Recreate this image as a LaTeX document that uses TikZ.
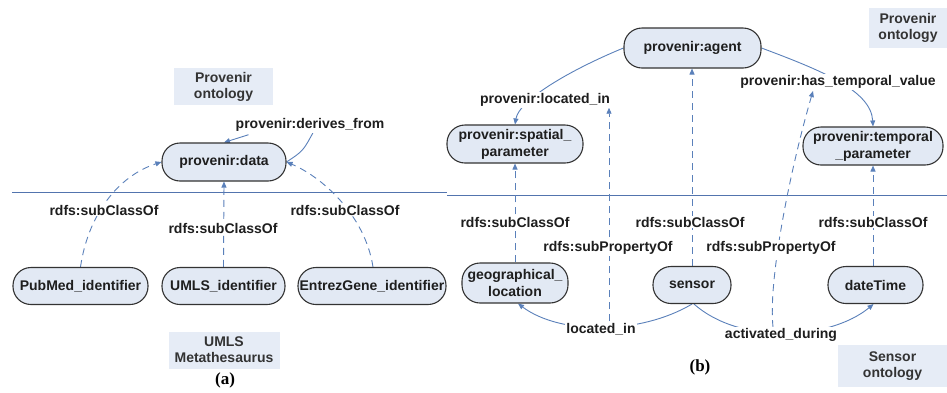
\documentclass[tikz,border=0pt]{standalone}
\usepackage{fontspec}
\setmainfont{Liberation Sans}
\newfontfamily\serifbold{Liberation Serif}
\usetikzlibrary{arrows.meta,backgrounds,calc}
\definecolor{nodefill}{HTML}{E2E9F4}
\definecolor{boxfill}{HTML}{E6ECF6}
\definecolor{edgeblue}{HTML}{5A80BA}
\definecolor{sepblue}{HTML}{5274AE}
\definecolor{txt}{HTML}{1E1E1E}
\begin{document}
\begin{tikzpicture}[x=1pt,y=-1pt,
  lbl/.style={font=\bfseries\fontsize{14}{17}\selectfont, text=txt, align=center},
  pill/.style={lbl, draw=black!80, line width=1.1pt, fill=nodefill, rounded corners=18pt, minimum height=37pt, inner sep=1pt},
  tag/.style={lbl, fill=white, inner sep=1pt},
  onto/.style={lbl, fill=boxfill, inner sep=0pt, font=\bfseries\fontsize{14}{16}\selectfont, text=black!80},
  rel/.style={draw=edgeblue, line width=0.9pt, -{Triangle[length=6pt,width=5pt]}},
  plain/.style={draw=edgeblue, line width=0.9pt},
  sub/.style={rel, dash pattern=on 7pt off 5pt},
  captext/.style={font=\serifbold\bfseries\fontsize{17}{19}\selectfont, text=black}
]
\useasboundingbox (0,0) rectangle (947,392);

% ---------- panel (a) ----------
\node[onto, minimum width=99pt, minimum height=37pt] (provA) at (223.5,86.5) {Provenir\\ontology};
\node[pill, minimum width=124pt, minimum height=38pt] (data) at (224,162) {provenir:data};
\node[pill, minimum width=135pt] (pub) at (80.5,286) {PubMed\_identifier};
\node[pill, minimum width=123pt] (umls) at (223.5,286) {UMLS\_identifier};
\node[pill, minimum width=148pt] (entrez) at (372,286) {EntrezGene\_identifier};
\node[onto, minimum width=111pt, minimum height=37pt] (umlsbox) at (224,350) {UMLS\\Metathesaurus};
\node[captext] (capa) at (225,380) {(a)};

\node[tag] (derives) at (310,125) {provenir:derives\_from};
\node[tag] (sc1) at (104,210) {rdfs:subClassOf};
\node[tag] (sc2) at (223,228) {rdfs:subClassOf};
\node[tag] (sc3) at (345,210) {rdfs:subClassOf};

% ---------- panel (b) ----------
\node[onto, minimum width=78pt, minimum height=40pt] (provB) at (908,28) {Provenir\\ontology};
\node[pill, minimum width=137pt, minimum height=40pt] (agent) at (692.5,48) {provenir:agent};
\node[pill, minimum width=136pt, minimum height=38pt] (spatial) at (515,144) {provenir:spatial\_\\parameter};
\node[pill, minimum width=140pt, minimum height=38pt] (temporal) at (873,146) {provenir:temporal\\\_parameter};
\node[pill, minimum width=106pt, minimum height=40pt] (geo) at (515,283) {geographical\_\\location};
\node[pill, minimum width=78pt] (sensor) at (692,285) {sensor};
\node[pill, minimum width=95pt] (datetime) at (875.5,285) {dateTime};
\node[onto, minimum width=109pt, minimum height=42pt] (sensbox) at (892.5,366) {Sensor\\ontology};
\node[captext] (capb) at (700,367) {(b)};

\node[tag] (locin) at (545,100) {provenir:located\_in};
\node[tag] (hastemp) at (838,82) {provenir:has\_temporal\_value};
\node[tag] (sc4) at (515,222) {rdfs:subClassOf};
\node[tag] (sp1) at (608,248) {rdfs:subPropertyOf};
\node[tag] (sc5) at (690,222) {rdfs:subClassOf};
\node[tag] (sp2) at (771,248) {rdfs:subPropertyOf};
\node[tag] (sc6) at (873,222) {rdfs:subClassOf};
\node[tag] (located) at (601,329) {located\_in};
\node[tag] (activated) at (781,335) {activated\_during};

\coordinate (sepAa) at (12,192);
\coordinate (sepAb) at (447,192);
\coordinate (sepBa) at (447,195);
\coordinate (sepBb) at (947,195);
\coordinate (sp1s) at (609,321);
\coordinate (sp2s) at (773,327);
\coordinate (sp2e) at (813,91);

\begin{scope}[on background layer]
  \draw[sepblue, line width=1pt] (sepAa) -- (sepAb);
  \draw[sepblue, line width=1pt] (sepBa) -- (sepBb);

  % (a) edges
  \draw[plain] (data.east) .. controls (303,151) .. ($(derives.south)+(3,0)$);
  \draw[rel] ($(derives.south west)+(14,2)$) -- (data.north);
  \draw[sub] (pub.north) .. controls (88,215) and (118,176) .. (data.west);
  \draw[sub] (umls.north) -- (data.south);
  \draw[sub] ($(entrez.north)+(1,0)$) .. controls (365,215) and (322,177) .. (data.east);

  % (b) edges
  \draw[rel] (agent.west) .. controls (570,70) and (519,100) .. (spatial.north);
  \draw[rel] (agent.east) .. controls (820,70) and (871,90) .. (temporal.north);
  \draw[sub] (sensor.north) -- (sensor.north |- agent.south);
  \draw[sub] (geo.north) -- (spatial.south);
  \draw[sub] (datetime.north -| temporal.south) -- (temporal.south);
  \draw[rel] (sensor.south) .. controls (640,335) and (560,335) .. ($(geo.south)+(3,0)$);
  \draw[rel] ($(sensor.south)+(2,0)$) .. controls (740,345) and (830,340) .. ($(datetime.south)+(-2,0)$);
  \draw[sub] (sp1s) -- (sp1s |- locin.south);
  \draw[sub] (sp2s) .. controls (768,280) and (790,170) .. (sp2e);
\end{scope}
\end{tikzpicture}
\end{document}
